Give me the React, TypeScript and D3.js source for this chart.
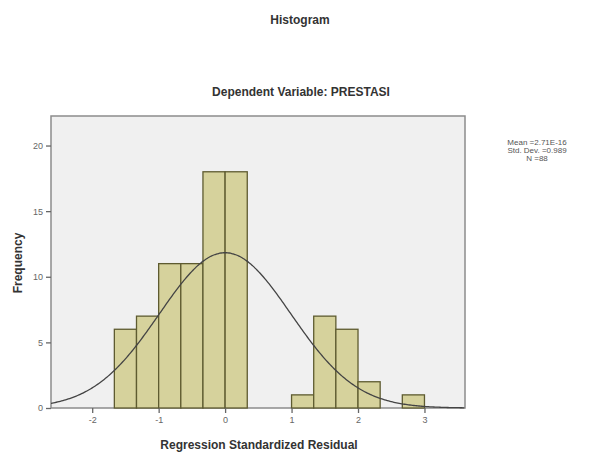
import React, { useEffect, useRef } from "react";
import * as d3 from "d3";

// bins are 1/3 wide, starting at -5/3
const binStarts = [-5, -4, -3, -2, -1, 0, 1, 2, 3, 4, 5, 6, 7, 8].map((k) => k / 3);
const counts = [6, 7, 11, 11, 18, 18, 0, 0, 1, 7, 6, 2, 0, 1];
const xTicks = [-2, -1, 0, 1, 2, 3];
const yTicks = [0, 5, 10, 15, 20];
const statLines = ["Mean =2.71E-16", "Std. Dev. =0.989", "N =88"];
const mean = 0;
const sd = 0.989;
const n = 88;

const W = 592;
const H = 456;
const plot = { left: 51, right: 465, top: 116, bottom: 408 };

export default function App() {
  const svgRef = useRef<SVGSVGElement>(null);

  useEffect(() => {
    const svg = d3.select(svgRef.current);
    svg.selectAll("*").remove();

    const x = d3.scaleLinear().domain([-2.62, 3.61]).range([plot.left, plot.right]);
    const y = d3.scaleLinear().domain([0, 22.25]).range([plot.bottom, plot.top]);
    const binW = 1 / 3;

    // plot background
    svg
      .append("rect")
      .attr("x", plot.left)
      .attr("y", plot.top)
      .attr("width", plot.right - plot.left)
      .attr("height", plot.bottom - plot.top)
      .attr("fill", "#f0f0f0")
      .attr("stroke", "#8c8c8c")
      .attr("stroke-width", 1.5);

    // bars
    svg
      .append("g")
      .selectAll("rect")
      .data(binStarts.map((s, i) => ({ s, c: counts[i] })).filter((d) => d.c > 0))
      .enter()
      .append("rect")
      .attr("x", (d) => x(d.s))
      .attr("y", (d) => y(d.c))
      .attr("width", (d) => x(d.s + binW) - x(d.s))
      .attr("height", (d) => y(0) - y(d.c))
      .attr("fill", "#d6d29c")
      .attr("stroke", "#5e5b30")
      .attr("stroke-width", 1.3);

    // normal curve
    const pts = d3.range(-2.62, 3.611, 0.02);
    const line = d3
      .line<number>()
      .x((v) => x(v))
      .y((v) => y((n * binW * Math.exp(-0.5 * ((v - mean) / sd) ** 2)) / (sd * Math.sqrt(2 * Math.PI))))
      .curve(d3.curveBasis);
    svg
      .append("path")
      .datum(pts)
      .attr("d", line)
      .attr("fill", "none")
      .attr("stroke", "#444")
      .attr("stroke-width", 1.3);

    // axes (plain hyphen for negatives, like SPSS)
    const fmt = (d: d3.NumberValue) => String(d);
    const xAxis = svg
      .append("g")
      .attr("transform", `translate(0,${plot.bottom})`)
      .call(d3.axisBottom(x).tickValues(xTicks).tickSize(5).tickPadding(4).tickFormat(fmt));
    const yAxis = svg
      .append("g")
      .attr("transform", `translate(${plot.left},0)`)
      .call(d3.axisLeft(y).tickValues(yTicks).tickSize(5).tickPadding(3).tickFormat(fmt));
    [xAxis, yAxis].forEach((g) => {
      g.select(".domain").remove();
      g.selectAll("line").attr("stroke", "#666").attr("stroke-width", 1.3);
      g.selectAll("text")
        .attr("fill", "#666")
        .attr("font-size", 9)
        .attr("font-family", "Liberation Sans, Arial, sans-serif");
    });

    const font = "Liberation Sans, Arial, sans-serif";
    svg
      .append("text")
      .attr("x", 300)
      .attr("y", 24)
      .attr("text-anchor", "middle")
      .attr("font-family", font)
      .attr("font-weight", "bold")
      .attr("font-size", 12)
      .attr("fill", "#333")
      .text("Histogram");
    svg
      .append("text")
      .attr("x", 301)
      .attr("y", 96)
      .attr("text-anchor", "middle")
      .attr("font-family", font)
      .attr("font-weight", "bold")
      .attr("font-size", 12)
      .attr("fill", "#333")
      .text("Dependent Variable: PRESTASI");
    svg
      .append("text")
      .attr("x", 259)
      .attr("y", 449)
      .attr("text-anchor", "middle")
      .attr("font-family", font)
      .attr("font-weight", "bold")
      .attr("font-size", 12)
      .attr("fill", "#333")
      .text("Regression Standardized Residual");
    svg
      .append("text")
      .attr("transform", `translate(22,${263}) rotate(-90)`)
      .attr("text-anchor", "middle")
      .attr("font-family", font)
      .attr("font-weight", "bold")
      .attr("font-size", 12)
      .attr("fill", "#333")
      .text("Frequency");

    svg
      .append("g")
      .selectAll("text")
      .data(statLines)
      .enter()
      .append("text")
      .attr("x", 537)
      .attr("y", (_, i) => 145 + i * 8)
      .attr("text-anchor", "middle")
      .attr("font-family", font)
      .attr("font-size", 8)
      .attr("fill", "#555")
      .text((d) => d);
  }, []);

  return (
    <svg
      ref={svgRef}
      width={W}
      height={H}
      style={{ position: "absolute", left: 0, top: 0, background: "#fff" }}
    />
  );
}
